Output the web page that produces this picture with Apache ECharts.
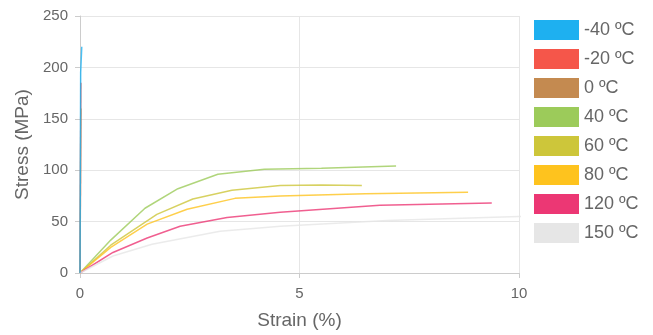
<!DOCTYPE html>
<html><head><meta charset="utf-8">
<script src="https://cdn.jsdelivr.net/npm/echarts@6/dist/echarts.min.js"></script>
<style>html,body{margin:0;padding:0;background:#fff}#c{width:653px;height:335px}</style>
</head><body><div id="c"></div>
<script>
const seriesNames = ['-40 ºC','-20 ºC','0 ºC','40 ºC','60 ºC','80 ºC','120 ºC','150 ºC'];
const colors = ['#1eb0f0','#f5564a','#c48a50','#9ccb5a','#cdc63a','#fec31e','#ec3774','#e6e6e6'];
const strainM40 = [0, 0.015, 0.04];
const stressM40 = [0, 195, 220];
const strainM20 = [0, 0.02];
const stressM20 = [0, 185];
const strain0 = [0, 0.02];
const stress0 = [0, 160];
const strain40 = [0, 0.7, 1.48, 2.23, 3.14, 4.2, 5.5, 7.2];
const stress40 = [0, 32, 63, 82, 96, 101, 102, 104];
const strain60 = [0, 0.7, 1.75, 2.57, 3.46, 4.56, 5.5, 6.42];
const stress60 = [0, 27, 57, 72, 80.5, 85, 85.5, 85];
const strain80 = [0, 0.7, 1.53, 2.44, 3.53, 4.56, 6.5, 8.84];
const stress80 = [0, 25, 47.5, 62, 72.6, 75, 77, 78.5];
const strain120 = [0, 0.75, 1.53, 2.28, 3.35, 4.56, 6.83, 9.38];
const stress120 = [0, 20, 34, 45.5, 54, 59, 66, 68];
const strain150 = [0, 0.75, 1.64, 3.19, 4.56, 7, 10, 12];
const stress150 = [0, 16.5, 28, 40.7, 45.5, 51, 55, 57];

const xs = [strainM40, strainM20, strain0, strain40, strain60, strain80, strain120, strain150];
const ys = [stressM40, stressM20, stress0, stress40, stress60, stress80, stress120, stress150];

const chart = echarts.init(document.getElementById('c'));
const axisTxt = {color:'#666', fontSize:15, fontFamily:'Liberation Sans'};
chart.setOption({
  animation:false,
  color: colors,
  grid:{left:80, right:134, top:16, bottom:61},
  legend:{
    orient:'vertical', left:529, top:15, itemWidth:45, itemHeight:20, itemGap:9,
    icon:'rect',
    textStyle:{color:'#666', fontSize:18, fontFamily:'Liberation Sans'},
    data: seriesNames
  },
  xAxis:{
    type:'value', min:0, max:10, interval:5,
    name:'Strain (%)', nameLocation:'middle', nameGap:38,
    nameTextStyle:{color:'#666', fontSize:19, fontFamily:'Liberation Sans'},
    axisLine:{show:true, lineStyle:{color:'#ccc'}},
    axisTick:{show:true, length:5, lineStyle:{color:'#ccc'}},
    axisLabel:Object.assign({margin:13}, axisTxt),
    splitLine:{show:true, lineStyle:{color:'#e6e6e6'}}
  },
  yAxis:{
    type:'value', min:0, max:250, interval:50,
    name:'Stress (MPa)', nameLocation:'middle', nameGap:42,
    nameTextStyle:{color:'#666', fontSize:19, fontFamily:'Liberation Sans'},
    axisLine:{show:true, lineStyle:{color:'#ccc'}},
    axisTick:{show:true, length:5, lineStyle:{color:'#ccc'}},
    axisLabel:Object.assign({margin:12}, axisTxt),
    splitLine:{show:true, lineStyle:{color:'#e6e6e6'}}
  },
  series: seriesNames.map((n,i)=>({
    name:n, type:'line', showSymbol:false, symbol:'none', clip:true,
    z: i === 0 ? 10 : 2,
    lineStyle:{width:1.5, opacity:0.8},
    data: xs[i].map((x,j)=>[x, ys[i][j]])
  }))
});
</script></body></html>
